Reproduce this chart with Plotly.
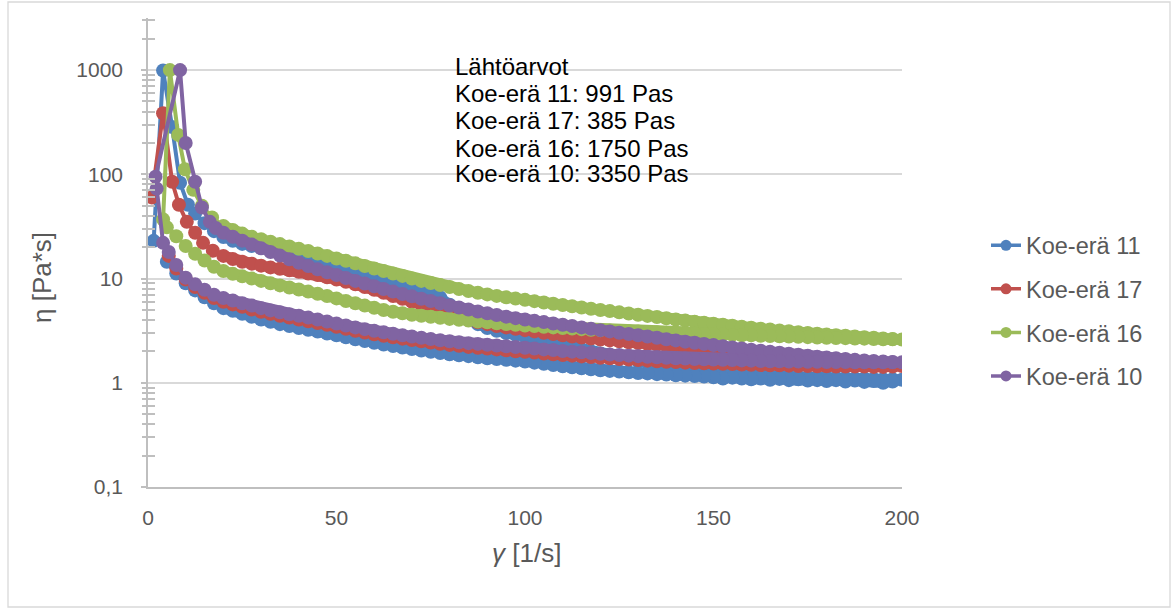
import plotly.graph_objects as go

# ---------------- data ----------------
SERIES_NAMES = ["Koe-erä 11", "Koe-erä 17", "Koe-erä 16", "Koe-erä 10"]
COLORS = ["#4F81BD", "#C0504D", "#9BBB59", "#8064A2"]

# shared shear-rate grid of the ramps (1/s)
UP_X = [20, 22.5, 25, 27.5, 30, 32.5, 35, 37.5, 40, 42.5, 45, 47.5,
        50, 52.5, 55, 57.5, 60, 62.5, 65, 67.5, 70, 72.5, 75, 77.5,
        80, 82.5, 85, 87.5, 90, 92.5, 95, 97.5, 100, 102.5, 105, 107.5,
        110, 112.5, 115, 117.5, 120, 122.5, 125, 127.5, 130, 132.5, 135, 137.5,
        140, 142.5, 145, 147.5, 150, 152.5, 155, 157.5, 160, 162.5, 165, 167.5,
        170, 172.5, 175, 177.5, 180, 182.5, 185, 187.5, 190, 192.5, 195, 197.5,
        200]
LOW_X = UP_X[:-1]  # down ramp (stored ascending, drawn descending)

# Koe-erä 11 (blue)
BLUE_HEAD_X = [1.5, 4, 6.4, 8.5, 10.6, 12.5, 15, 17.5]
BLUE_HEAD_Y = [23, 991, 284, 83, 51, 42, 34, 28.5]
BLUE_UP = [25, 23.0, 21.5, 20.5, 19.6, 18.8, 18.0, 17.3,
           16.55, 15.6, 14.6, 13.8, 13.0, 12.2, 11.5, 10.9,
           10.3, 9.7, 9.15, 8.7, 8.2, 7.8, 7.3, 6.6,
           5.6, 4.75, 4.1, 3.65, 3.35, 3.15, 3.0, 2.88,
           2.77, 2.65, 2.53, 2.42, 2.31, 2.2, 2.1, 2.0,
           1.91, 1.83, 1.75, 1.68, 1.61, 1.55, 1.49, 1.44,
           1.40, 1.36, 1.33, 1.30, 1.28, 1.26, 1.24, 1.22,
           1.20, 1.19, 1.17, 1.16, 1.15, 1.14, 1.13, 1.12,
           1.12, 1.11, 1.11, 1.10, 1.10, 1.09, 1.08, 1.08,
           1.07]
BLUE_LOW = [5.2, 4.9, 4.6, 4.3, 4.05, 3.85, 3.65, 3.5,
            3.35, 3.22, 3.1, 2.97, 2.85, 2.73, 2.62, 2.52,
            2.42, 2.33, 2.25, 2.18, 2.11, 2.04, 1.98, 1.93,
            1.88, 1.84, 1.8, 1.76, 1.72, 1.69, 1.66, 1.63,
            1.6, 1.56, 1.52, 1.48, 1.44, 1.41, 1.38, 1.35,
            1.32, 1.30, 1.28, 1.26, 1.24, 1.23, 1.21, 1.20,
            1.18, 1.17, 1.16, 1.15, 1.13, 1.10, 1.12, 1.10,
            1.08, 1.10, 1.07, 1.09, 1.06, 1.08, 1.05, 1.06,
            1.04, 1.06, 1.03, 1.05, 1.02, 1.04, 1.00, 1.03]
BLUE_TAIL_X = [17.5, 15, 12.5, 10, 7.5, 5]
BLUE_TAIL_Y = [5.8, 6.6, 7.7, 9.0, 11.2, 14.5]

# Koe-erä 17 (red)
RED_HEAD_X = [1, 4, 6.4, 8.2, 10.3, 12.5, 14.6, 17.2]
RED_HEAD_Y = [60, 385, 85, 51, 35, 27.5, 22, 18.5]
RED_UP = [16.5, 15.4, 14.5, 13.9, 13.3, 12.8, 12.4, 12.0,
          11.6, 11.2, 10.8, 10.3, 9.8, 9.3, 8.8, 8.3,
          7.8, 7.3, 6.8, 6.4, 6.0, 5.6, 5.25, 4.9,
          4.5, 4.25, 4.0, 3.8, 3.65, 3.5, 3.4, 3.3,
          3.2, 3.11, 3.02, 2.93, 2.85, 2.78, 2.72, 2.66,
          2.6, 2.55, 2.5, 2.45, 2.4, 2.35, 2.31, 2.26,
          2.22, 2.18, 2.13, 2.09, 2.05, 2.01, 1.97, 1.94,
          1.9, 1.86, 1.82, 1.79, 1.75, 1.72, 1.68, 1.65,
          1.62, 1.6, 1.57, 1.54, 1.52, 1.5, 1.48, 1.46,
          1.45]
RED_LOW = [6.0, 5.65, 5.35, 5.05, 4.8, 4.6, 4.4, 4.22,
           4.05, 3.9, 3.75, 3.6, 3.45, 3.3, 3.15, 3.03,
           2.92, 2.82, 2.73, 2.65, 2.57, 2.5, 2.43, 2.37,
           2.31, 2.26, 2.21, 2.17, 2.13, 2.09, 2.05, 2.01,
           1.98, 1.95, 1.91, 1.88, 1.85, 1.82, 1.79, 1.77,
           1.74, 1.72, 1.69, 1.67, 1.65, 1.63, 1.61, 1.59,
           1.58, 1.56, 1.55, 1.54, 1.53, 1.52, 1.51, 1.5,
           1.49, 1.48, 1.47, 1.47, 1.46, 1.45, 1.45, 1.44,
           1.44, 1.43, 1.43, 1.43, 1.43, 1.42, 1.42, 1.43]
RED_TAIL_X = [17.5, 15, 12.5, 10, 7.5, 5.5]
RED_TAIL_Y = [6.5, 7.3, 8.3, 9.8, 12.5, 16.5]

# Koe-erä 16 (green)
GREEN_HEAD_X = [4, 5.8, 8, 9.8, 12, 14.3, 17]
GREEN_HEAD_Y = [37, 1000, 239, 112, 71, 50, 38.5]
GREEN_UP = [32, 29.2, 27.0, 25.2, 23.8, 22.6, 21.4, 20.3,
            19.3, 18.4, 17.4, 16.5, 15.6, 14.8, 14.0, 13.2,
            12.5, 11.8, 11.2, 10.6, 10.0, 9.5, 9.05, 8.65,
            8.3, 7.95, 7.6, 7.3, 7.05, 6.82, 6.6, 6.42,
            6.25, 6.07, 5.9, 5.74, 5.58, 5.43, 5.28, 5.14,
            5.0, 4.87, 4.74, 4.62, 4.5, 4.38, 4.27, 4.16,
            4.05, 3.95, 3.86, 3.77, 3.68, 3.6, 3.52, 3.44,
            3.37, 3.3, 3.24, 3.18, 3.12, 3.06, 3.0, 2.95,
            2.9, 2.86, 2.82, 2.78, 2.74, 2.7, 2.66, 2.63,
            2.6]
GREEN_LOW = [11.8, 11.1, 10.5, 10.0, 9.5, 9.0, 8.6, 8.2,
             7.85, 7.5, 7.15, 6.8, 6.45, 6.1, 5.8, 5.5,
             5.25, 5.0, 4.8, 4.65, 4.5, 4.4, 4.3, 4.2,
             4.1, 4.02, 3.95, 3.87, 3.8, 3.73, 3.66, 3.6,
             3.55, 3.5, 3.45, 3.4, 3.35, 3.31, 3.27, 3.23,
             3.2, 3.17, 3.14, 3.12, 3.1, 3.07, 3.05, 3.02,
             3.0, 2.98, 2.96, 2.94, 2.92, 2.9, 2.88, 2.86,
             2.85, 2.83, 2.81, 2.79, 2.78, 2.76, 2.74, 2.72,
             2.7, 2.69, 2.68, 2.66, 2.65, 2.63, 2.62, 2.61]
GREEN_TAIL_X = [17.5, 15, 12.5, 10, 7.5, 5]
GREEN_TAIL_Y = [13.0, 14.9, 17.3, 20.5, 25.5, 31]

# Koe-erä 10 (purple)
PURPLE_HEAD_X = [2, 8.5, 10, 12.5, 14.3, 16.4, 18]
PURPLE_HEAD_Y = [95, 1000, 200, 85, 48, 35, 30.5]
PURPLE_UP = [27.5, 25.2, 23.1, 21.2, 19.5, 18.0, 16.6, 15.3,
             14.2, 13.2, 12.3, 11.5, 10.8, 10.1, 9.5, 8.95,
             8.45, 7.95, 7.5, 7.1, 6.75, 6.4, 6.08, 5.8,
             5.52, 5.27, 5.04, 4.83, 4.64, 4.47, 4.31, 4.17,
             4.05, 3.93, 3.82, 3.71, 3.6, 3.5, 3.4, 3.3,
             3.2, 3.11, 3.02, 2.94, 2.86, 2.78, 2.7, 2.62,
             2.55, 2.48, 2.42, 2.36, 2.3, 2.24, 2.18, 2.13,
             2.08, 2.03, 1.98, 1.94, 1.9, 1.86, 1.82, 1.78,
             1.75, 1.72, 1.69, 1.66, 1.64, 1.62, 1.6, 1.58,
             1.57]
PURPLE_LOW = [6.5, 6.15, 5.8, 5.5, 5.2, 4.95, 4.75, 4.55,
              4.4, 4.22, 4.05, 3.87, 3.7, 3.55, 3.4, 3.27,
              3.15, 3.05, 2.95, 2.86, 2.78, 2.7, 2.63, 2.56,
              2.5, 2.45, 2.4, 2.36, 2.32, 2.28, 2.24, 2.2,
              2.17, 2.13, 2.09, 2.06, 2.02, 1.99, 1.96, 1.93,
              1.9, 1.87, 1.85, 1.82, 1.8, 1.78, 1.76, 1.74,
              1.72, 1.71, 1.69, 1.68, 1.67, 1.66, 1.65, 1.64,
              1.63, 1.62, 1.61, 1.61, 1.6, 1.6, 1.59, 1.59,
              1.58, 1.58, 1.58, 1.57, 1.57, 1.57, 1.57, 1.57]
PURPLE_TAIL_X = [17.5, 15, 12.5, 10, 7.5, 5.5, 4, 2.3]
PURPLE_TAIL_Y = [7.0, 7.8, 8.8, 10.2, 13.5, 18, 22, 73]

ANNOT_LINES = ["Lähtöarvot", "Koe-erä 11: 991 Pas", "Koe-erä 17: 385 Pas",
               "Koe-erä 16: 1750 Pas", "Koe-erä 10: 3350 Pas"]

Y_TICKS = [0.1, 1, 10, 100, 1000]
Y_TICKTEXT = ["0,1", "1", "10", "100", "1000"]
X_TICKS = [0, 50, 100, 150, 200]

SERIES = [
    (BLUE_HEAD_X, BLUE_HEAD_Y, BLUE_UP, BLUE_LOW, BLUE_TAIL_X, BLUE_TAIL_Y),
    (RED_HEAD_X, RED_HEAD_Y, RED_UP, RED_LOW, RED_TAIL_X, RED_TAIL_Y),
    (GREEN_HEAD_X, GREEN_HEAD_Y, GREEN_UP, GREEN_LOW, GREEN_TAIL_X, GREEN_TAIL_Y),
    (PURPLE_HEAD_X, PURPLE_HEAD_Y, PURPLE_UP, PURPLE_LOW, PURPLE_TAIL_X, PURPLE_TAIL_Y),
]

# ---------------- layout geometry (pixels) ----------------
W, H = 1173, 610
PL, PR, PT, PB = 148, 902, 18, 487  # plot area edges


def px_x(p):
    return (p - PL) / (PR - PL)


def px_y(p):
    return (PB - p) / (PB - PT)


FONT = "Liberation Sans, Arial, sans-serif"
GRAY_TXT = "#595959"
AXIS_GRAY = "#BFBFBF"
GRID_GRAY = "#D9D9D9"

fig = go.Figure()

for (hx, hy, up, low, tx, ty), name, col in zip(SERIES, SERIES_NAMES, COLORS):
    assert len(up) == len(UP_X) and len(low) == len(LOW_X)
    # the densely measured ramps overlap into a solid band: a wide stroke
    # through the same points fills the gaps between neighbouring markers
    fig.add_trace(go.Scatter(
        x=UP_X + LOW_X[::-1], y=up + low[::-1], mode="lines",
        showlegend=False, hoverinfo="skip",
        line=dict(color=col, width=10.5)))
    fig.add_trace(go.Scatter(
        x=hx + UP_X + LOW_X[::-1] + tx, y=hy + up + low[::-1] + ty,
        mode="lines+markers", name=name, showlegend=False,
        line=dict(color=col, width=4),
        marker=dict(color=col, size=14, line=dict(width=0)),
        hoverinfo="skip"))

# legend-only entries (smaller symbols like the original legend)
for i, (name, col) in enumerate(zip(SERIES_NAMES, COLORS)):
    fig.add_trace(go.Scatter(
        x=[None], y=[None], mode="lines+markers", name=name,
        legendgroup=f"g{i}",
        line=dict(color=col, width=3.5), marker=dict(color=col, size=11)))

# overlay axis used only to draw the inner half of the crossing minor ticks
fig.add_trace(go.Scatter(x=[None], y=[None], yaxis="y2", showlegend=False,
                         hoverinfo="skip"))

minor_vals = [m * 10 ** e for e in range(-1, 4) for m in range(2, 10)
              if m * 10 ** e < 3200]

fig.update_layout(
    width=W, height=H, autosize=False,
    margin=dict(l=PL, r=W - PR, t=PT, b=H - PB, pad=0),
    paper_bgcolor="white", plot_bgcolor="white",
    font=dict(family=FONT, color=GRAY_TXT, size=21),
    xaxis=dict(range=[0, 200], tickvals=X_TICKS, showgrid=False,
               zeroline=False, showline=True, linecolor=AXIS_GRAY,
               linewidth=1.5, ticks="", ticklabelstandoff=11,
               tickfont=dict(size=21, color=GRAY_TXT, family=FONT)),
    yaxis=dict(type="log", range=[-1, 3.5], tickvals=Y_TICKS,
               ticktext=Y_TICKTEXT, showgrid=True, gridcolor=GRID_GRAY,
               gridwidth=1.5, zeroline=False, showline=True,
               linecolor=AXIS_GRAY, linewidth=1.5, ticks="outside",
               ticklen=5, tickcolor=AXIS_GRAY, tickwidth=1.5,
               ticklabelstandoff=14,
               minor=dict(tickvals=minor_vals, ticks="outside", ticklen=4,
                          tickcolor=AXIS_GRAY, tickwidth=1.5, showgrid=False),
               tickfont=dict(size=21, color=GRAY_TXT, family=FONT)),
    yaxis2=dict(type="log", range=[-1, 3.5], overlaying="y", side="left",
                showgrid=False, zeroline=False, showline=False,
                showticklabels=False, tickvals=[],
                minor=dict(tickvals=minor_vals, ticks="inside", ticklen=7,
                           tickcolor=AXIS_GRAY, tickwidth=1.5, showgrid=False)),
    legend=dict(x=px_x(986), y=px_y(311), xanchor="left", yanchor="middle",
                font=dict(size=23.5, color=GRAY_TXT, family=FONT),
                tracegroupgap=10, bgcolor="rgba(0,0,0,0)",
                itemclick=False, itemdoubleclick=False),
    showlegend=True,
)

# axis titles
fig.add_annotation(text="η [Pa*s]", x=px_x(42), y=px_y(278), xref="paper",
                   yref="paper", textangle=-90, showarrow=False,
                   xanchor="center", yanchor="middle",
                   font=dict(size=26, color=GRAY_TXT, family=FONT))
fig.add_annotation(text="<i>γ</i> [1/s]", x=px_x(526), y=px_y(553),
                   xref="paper", yref="paper", showarrow=False,
                   xanchor="center", yanchor="middle",
                   font=dict(size=26, color=GRAY_TXT, family=FONT))

# text box with starting values
LINE_Y = [67, 94, 121, 148, 174]
for txt, py in zip(ANNOT_LINES, LINE_Y):
    fig.add_annotation(text=txt, x=px_x(453), y=px_y(py), xref="paper",
                       yref="paper", showarrow=False, xanchor="left",
                       yanchor="middle", align="left",
                       font=dict(size=24, color="#000000", family=FONT))

# chart-area border
fig.add_shape(type="rect", xref="paper", yref="paper",
              x0=px_x(8), x1=px_x(1170), y0=px_y(607), y1=px_y(2),
              line=dict(color=GRID_GRAY, width=1.3), fillcolor="rgba(0,0,0,0)",
              layer="below")

fig.write_html("out.html", config={"displayModeBar": False})
